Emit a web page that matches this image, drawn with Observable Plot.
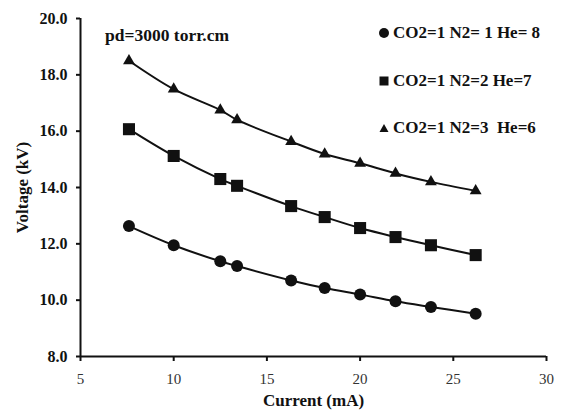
<!DOCTYPE html>
<html>
<head>
<meta charset="utf-8">
<script src="https://cdn.jsdelivr.net/npm/d3@7"></script>
<script src="https://cdn.jsdelivr.net/npm/@observablehq/plot@0.6"></script>
<style>
  html, body { margin: 0; padding: 0; background: #fff; }
  #wrap { position: relative; width: 561px; height: 412px; font-family: 'Liberation Serif'; }
  #wrap svg text { font-family: 'Liberation Serif' !important; }
  .legend { position: absolute; left: 378px; top: 22px; font-weight: bold; font-size: 17px; color: #111; font-family: 'Liberation Serif'; }
  .legend .row { display: flex; align-items: center; height: 22px; margin-bottom: 25.5px; white-space: pre; }
  .legend svg { margin-right: 3px; }
  .note { position: absolute; left: 105px; top: 25px; font-weight: bold; font-size: 17.5px; color: #111; white-space: pre; font-family: 'Liberation Serif'; }
</style>
</head>
<body>
<div id="wrap"></div>
<script>
// Data
const current = [7.6, 10.0, 12.5, 13.4, 16.3, 18.1, 20.0, 21.9, 23.8, 26.2];
const voltageHe8 = [12.63, 11.95, 11.38, 11.21, 10.70, 10.43, 10.20, 9.96, 9.76, 9.52];
const voltageHe7 = [16.07, 15.12, 14.30, 14.06, 13.34, 12.95, 12.56, 12.24, 11.95, 11.60];
const voltageHe6 = [18.50, 17.49, 16.75, 16.40, 15.63, 15.19, 14.86, 14.50, 14.20, 13.88];
const seriesNames = ["CO2=1 N2= 1 He= 8", "CO2=1 N2=2 He=7", "CO2=1 N2=3  He=6"];
const seriesSymbols = ["circle", "square", "triangle"];
const xTicks = [5, 10, 15, 20, 25, 30];
const yTicks = [8, 10, 12, 14, 16, 18, 20];
const xTitle = "Current (mA)";
const yTitle = "Voltage (kV)";
const noteText = "pd=3000 torr.cm";

const seriesValues = [voltageHe8, voltageHe7, voltageHe6];
const rows = [];
seriesValues.forEach((vals, si) => {
  vals.forEach((v, i) => rows.push({series: seriesNames[si], symbol: seriesSymbols[si], current: current[i], voltage: v}));
});
const symR = {circle: 6, square: 6.8, triangle: 4.4};
const serif = "Liberation Serif";

const chart = Plot.plot({
  width: 561,
  height: 412,
  marginLeft: 80,
  marginRight: 15,
  marginTop: 18,
  marginBottom: 56,
  style: {fontFamily: serif, fontSize: "16px", background: "white", color: "#111"},
  x: {domain: [5, 30]},
  y: {domain: [8, 20]},
  marks: [
    Plot.ruleX([5], {stroke: "#111", strokeWidth: 2}),
    Plot.ruleY([8], {stroke: "#111", strokeWidth: 2}),
    Plot.axisY({ticks: yTicks, tickFormat: d3.format(".1f"), tickSize: 4, tickPadding: 9, strokeWidth: 2, label: null,
      fontFamily: serif, fontWeight: "bold", fontSize: 16}),
    Plot.axisX({ticks: xTicks, tickFormat: d3.format("d"), tickSize: 5, tickPadding: 12, strokeWidth: 2, label: null,
      fontFamily: serif, fontSize: 15, fill: "#333"}),
    Plot.text([xTitle], {text: d => d, frameAnchor: "bottom", dy: 49, fontFamily: serif, fontWeight: "bold", fontSize: 17, fill: "#111"}),
    Plot.text([yTitle], {text: d => d, frameAnchor: "left", textAnchor: "middle", rotate: -90, dx: -58, fontFamily: serif, fontWeight: "bold", fontSize: 17, fill: "#111"}),
    Plot.line(rows, {x: "current", y: "voltage", z: "series", curve: "catmull-rom", stroke: "#111", strokeWidth: 2}),
    ...seriesSymbols.map(s => Plot.dot(rows.filter(d => d.symbol === s), {x: "current", y: "voltage", symbol: () => s, r: symR[s], fill: "#111", stroke: "none"}))
  ]
});

const wrap = document.getElementById("wrap");
wrap.appendChild(chart);

const note = document.createElement("div");
note.className = "note";
note.textContent = noteText;
wrap.appendChild(note);

const legend = document.createElement("div");
legend.className = "legend";
const symPaths = {
  circle: '<circle cx="6" cy="6" r="5" fill="#111"/>',
  square: '<rect x="1.5" y="1.5" width="9" height="9" fill="#111"/>',
  triangle: '<path d="M6 2 L10.5 10 L1.5 10 Z" fill="#111"/>'
};
seriesNames.forEach((name, i) => {
  const row = document.createElement("div");
  row.className = "row";
  row.innerHTML = `<svg width="12" height="12">${symPaths[seriesSymbols[i]]}</svg><span></span>`;
  row.querySelector("span").textContent = name;
  legend.appendChild(row);
});
wrap.appendChild(legend);
</script>
</body>
</html>
